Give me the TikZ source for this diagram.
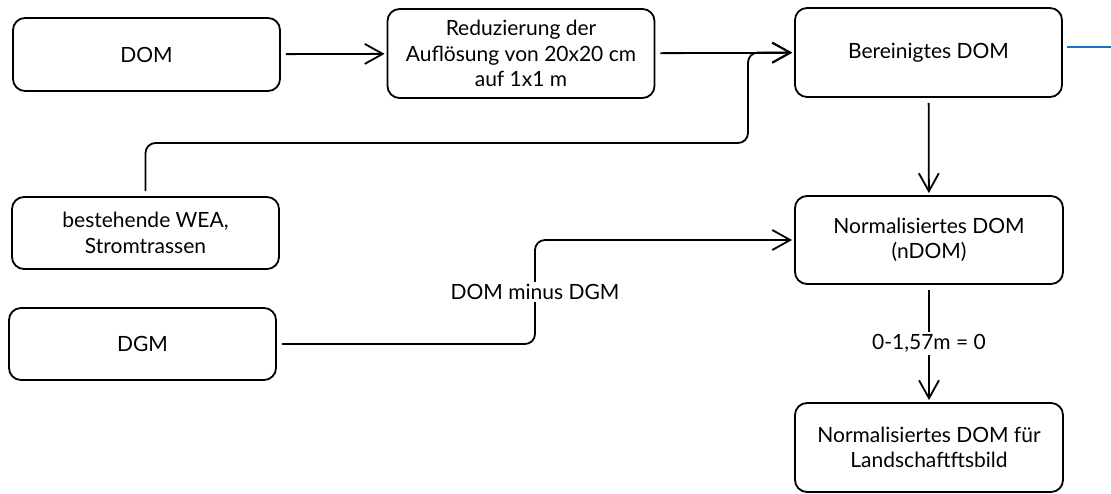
\documentclass[tikz,border=0pt]{standalone}
\usepackage{fontspec}
\setmainfont{Lato}
\usepackage{tikz}
\usetikzlibrary{arrows.meta}

\begin{document}
\begin{tikzpicture}[x=1pt,y=-1pt,
  box/.style={draw,line width=1.8pt,rounded corners=12pt,minimum width=267pt,align=center,
    font=\fontsize{21}{25.5}\selectfont,inner sep=2pt},
  arr/.style={line width=1.8pt,-{Straight Barb[length=18pt,width=20pt]},
    shorten <=5pt,shorten >=2pt},
  lbl/.style={fill=white,inner sep=2pt,font=\fontsize{21}{25.5}\selectfont},
  bluel/.style={line width=2pt,color={rgb,255:red,25;green,113;blue,194}}]
\useasboundingbox (0,0) rectangle (1111,494);
\node[box,minimum height=73pt] (dom) at (146.5,54.5) {DOM};
\node[box,minimum height=89pt] (red) at (521,53.5) {Reduzierung der\\Auflösung von 20x20 cm\\auf 1x1 m};
\node[box,minimum height=89pt] (ber) at (928.5,52.5) {Bereinigtes DOM};
\node[box,minimum height=72pt] (wea) at (145.5,233) {bestehende WEA,\\Stromtrassen};
\node[box,minimum height=72pt] (dgm) at (142.5,344) {DGM};
\node[box,minimum height=88pt,minimum width=268pt] (ndom) at (929,240) {Normalisiertes DOM\\(nDOM)};
\node[box,minimum height=89pt,minimum width=268pt] (ndoml) at (929,447.5) {Normalisiertes DOM für\\Landschaftftsbild};
\coordinate (wbend) at (748,143);
\coordinate (mid) at (535,292);
\coordinate (edge) at (1111,47);
\draw[arr] (dom) -- (red);
\draw[arr] (red) -- (ber);
\draw[arr,rounded corners=10pt] (wea.north) |- (wbend) |- (ber.west);
\draw[arr] (ber) -- (ndom);
\draw[arr,rounded corners=10pt] (dgm.east) -| (mid) |- (ndom.west);
\node[lbl] (minus) at (mid) {DOM minus DGM};
\draw[arr] (ndom) -- node[lbl] (thr) {0-1,57m = 0} (ndoml);
\draw[bluel,shorten <=4pt] (ber.east |- edge) -- (edge);
\end{tikzpicture}
\end{document}
